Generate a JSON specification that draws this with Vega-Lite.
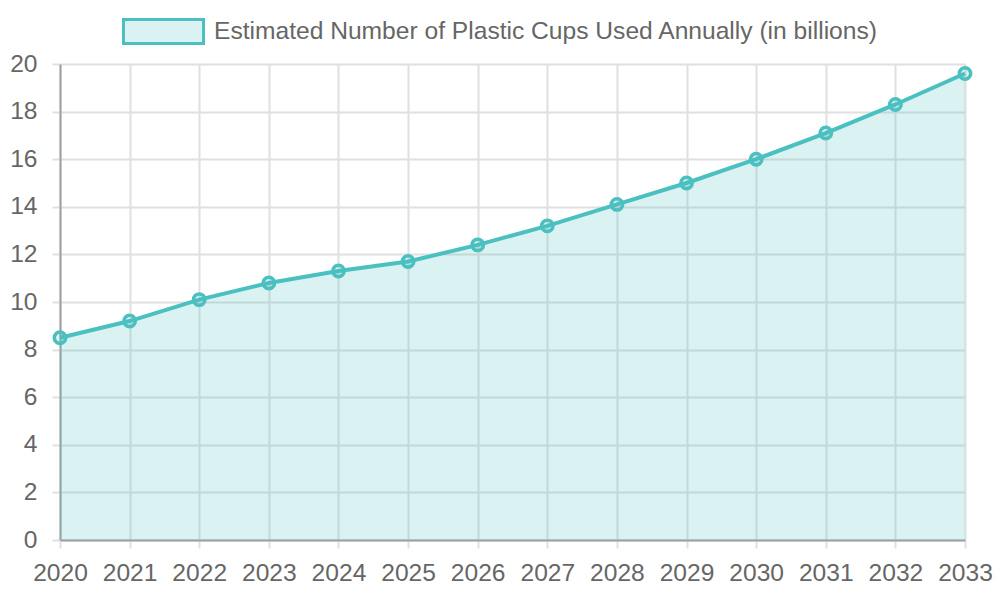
{
  "$schema": "https://vega.github.io/schema/vega-lite/v6.json",
  "width": 905,
  "height": 476,
  "autosize": {"type": "none"},
  "padding": {"left": 60, "top": 64, "right": 35, "bottom": 60},
  "background": "white",
  "data": {
    "values": [
      {"year": "2020", "value": 8.5, "series": "Estimated Number of Plastic Cups Used Annually (in billions)"},
      {"year": "2021", "value": 9.2, "series": "Estimated Number of Plastic Cups Used Annually (in billions)"},
      {"year": "2022", "value": 10.1, "series": "Estimated Number of Plastic Cups Used Annually (in billions)"},
      {"year": "2023", "value": 10.8, "series": "Estimated Number of Plastic Cups Used Annually (in billions)"},
      {"year": "2024", "value": 11.3, "series": "Estimated Number of Plastic Cups Used Annually (in billions)"},
      {"year": "2025", "value": 11.7, "series": "Estimated Number of Plastic Cups Used Annually (in billions)"},
      {"year": "2026", "value": 12.4, "series": "Estimated Number of Plastic Cups Used Annually (in billions)"},
      {"year": "2027", "value": 13.2, "series": "Estimated Number of Plastic Cups Used Annually (in billions)"},
      {"year": "2028", "value": 14.1, "series": "Estimated Number of Plastic Cups Used Annually (in billions)"},
      {"year": "2029", "value": 15.0, "series": "Estimated Number of Plastic Cups Used Annually (in billions)"},
      {"year": "2030", "value": 16.0, "series": "Estimated Number of Plastic Cups Used Annually (in billions)"},
      {"year": "2031", "value": 17.1, "series": "Estimated Number of Plastic Cups Used Annually (in billions)"},
      {"year": "2032", "value": 18.3, "series": "Estimated Number of Plastic Cups Used Annually (in billions)"},
      {"year": "2033", "value": 19.6, "series": "Estimated Number of Plastic Cups Used Annually (in billions)"}
    ]
  },
  "encoding": {
    "x": {
      "field": "year", "type": "ordinal",
      "scale": {"type": "point", "padding": 0},
      "axis": {"title": null, "labelAngle": 0, "grid": true, "gridColor": "#e0e0e0", "gridWidth": 2, "tickColor": "#e0e0e0", "tickWidth": 2, "tickSize": 8, "domainColor": "#a0a0a0", "domainWidth": 2, "labelFont": "Liberation Sans", "labelFontSize": 24.6, "labelColor": "#666666", "labelPadding": 13}
    },
    "y": {
      "field": "value", "type": "quantitative",
      "scale": {"domain": [0, 20], "nice": false},
      "axis": {"title": null, "values": [0,2,4,6,8,10,12,14,16,18,20], "grid": true, "gridColor": "#e0e0e0", "gridWidth": 2, "tickColor": "#e0e0e0", "tickWidth": 2, "tickSize": 8, "domainColor": "#a0a0a0", "domainWidth": 2, "labelFont": "Liberation Sans", "labelFontSize": 24.6, "labelColor": "#666666", "labelPadding": 15}
    }
  },
  "layer": [
    {
      "mark": {"type": "area", "interpolate": "linear"},
      "encoding": {
        "color": {
          "field": "series", "type": "nominal",
          "scale": {"range": ["rgba(75,192,192,0.2)"]},
          "legend": {
            "title": null,
            "orient": "none",
            "legendX": 62,
            "legendY": -74,
            "padding": 0,
            "symbolType": "M-1,-0.3H1V0.3H-1Z",
            "symbolSize": 6400,
            "symbolFillColor": "rgba(75,192,192,0.2)",
            "symbolStrokeColor": "#4bc0c0",
            "symbolStrokeWidth": 3,
            "symbolOpacity": 1,
            "labelFont": "Liberation Sans",
            "labelFontSize": 24.6,
            "labelColor": "#666666",
            "labelOffset": 9,
            "labelLimit": 0,
            "encode": {
              "symbols": {"update": {"stroke": {"value": "#4bc0c0"}, "strokeWidth": {"value": 3}, "fill": {"value": "rgba(75,192,192,0.2)"}, "opacity": {"value": 1}}}
            }
          }
        }
      }
    },
    {
      "mark": {"type": "line", "color": "#4bc0c0", "strokeWidth": 4}
    },
    {
      "mark": {"type": "point", "filled": false, "shape": "circle", "size": 130, "stroke": "#4bc0c0", "strokeWidth": 3.5, "fill": "rgba(75,192,192,0.2)", "opacity": 1}
    }
  ],
  "config": {
    "view": {"stroke": null}
  }
}
